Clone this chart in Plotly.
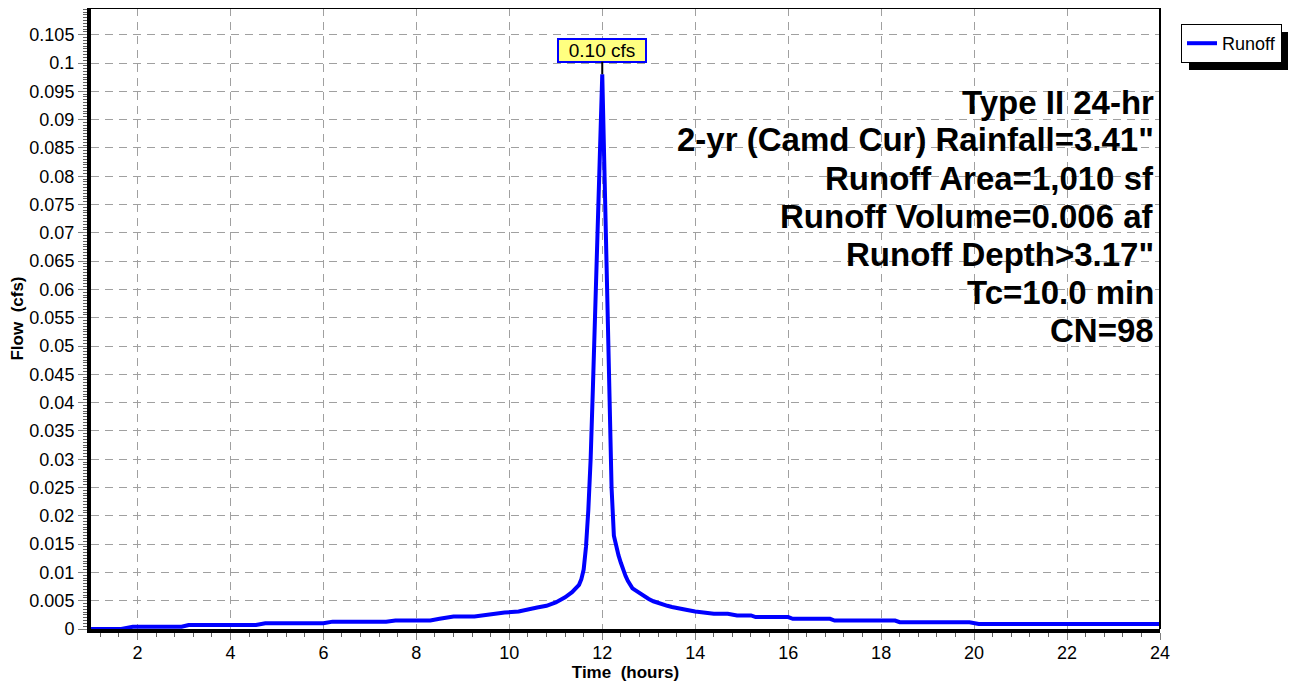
import plotly.graph_objects as go

# Hydrograph (time in hours, flow in cfs)
time_hr = [1.0, 1.65, 1.9, 2.95, 3.1, 4.55, 4.75, 6.0, 6.2, 7.35, 7.55, 8.3, 8.5, 8.8,
           9.25, 9.55, 9.9, 10.2, 10.4, 10.6, 10.8, 11.0, 11.2, 11.35, 11.5, 11.55,
           11.6, 11.65, 11.7, 11.75, 11.8, 11.85, 11.9, 11.95, 12.0, 12.05, 12.1,
           12.15, 12.2, 12.25, 12.3, 12.35, 12.4, 12.45, 12.5, 12.55, 12.6, 12.65,
           12.7, 12.75, 12.8, 12.9, 13.0, 13.1, 13.2, 13.3, 13.4, 13.5, 13.6, 13.8,
           14.0, 14.2, 14.4, 14.7, 14.9, 15.2, 15.3, 16.0, 16.1, 16.9, 17.0, 18.3,
           18.4, 19.9, 20.1, 24.0]
flow_cfs = [0.0, 0.0, 0.0004, 0.0004, 0.0007, 0.0007, 0.001, 0.001, 0.0013, 0.0013,
            0.0015, 0.0015, 0.0018, 0.0022, 0.0022, 0.0026, 0.0029, 0.0031, 0.0035,
            0.0038, 0.0041, 0.0047, 0.0056, 0.0065, 0.0078, 0.0088, 0.0105, 0.0145,
            0.021, 0.030, 0.043, 0.057, 0.071, 0.086, 0.098, 0.080, 0.060, 0.040,
            0.025, 0.0165, 0.0145, 0.0130, 0.0117, 0.0104, 0.0094, 0.0085, 0.0077,
            0.0072, 0.0069, 0.0066, 0.0063, 0.0058, 0.0053, 0.0049, 0.0046, 0.0043,
            0.0041, 0.0039, 0.0037, 0.0034, 0.0031, 0.0029, 0.0027, 0.0027, 0.0024,
            0.0024, 0.0021, 0.0021, 0.0018, 0.0018, 0.0015, 0.0015, 0.0012, 0.0012,
            0.0009, 0.0009]

x_tick_vals = [2, 4, 6, 8, 10, 12, 14, 16, 18, 20, 22, 24]
y_tick_vals = [0, 0.005, 0.01, 0.015, 0.02, 0.025, 0.03, 0.035, 0.04, 0.045, 0.05,
               0.055, 0.06, 0.065, 0.07, 0.075, 0.08, 0.085, 0.09, 0.095, 0.1, 0.105]
y_tick_text = ["0", "0.005", "0.01", "0.015", "0.02", "0.025", "0.03", "0.035", "0.04",
               "0.045", "0.05", "0.055", "0.06", "0.065", "0.07", "0.075", "0.08",
               "0.085", "0.09", "0.095", "0.1", "0.105"]

info_lines = ["Type II 24-hr", "2-yr (Camd Cur) Rainfall=3.41\"", "Runoff Area=1,010 sf",
              "Runoff Volume=0.006 af", "Runoff Depth>3.17\"", "Tc=10.0 min", "CN=98"]
peak_time = 12.0
peak_flow = 0.098
peak_label = "0.10 cfs"

FONT = "Arial, Liberation Sans, sans-serif"

# the page body has an 8px margin; work in page pixels and convert
OFF = 8
W, H = 1296 - OFF, 686 - OFF
PLOT_L, PLOT_R, PLOT_T, PLOT_B = 91, 1160, 8, 629   # page pixels
L = PLOT_L - OFF
R = W - (PLOT_R - OFF)
T = PLOT_T - OFF
B = H - (PLOT_B - OFF)
pw, ph = W - L - R, H - T - B

def px_x(px):
    return (px - PLOT_L) / pw

def px_y(py):
    return (PLOT_B - py) / ph

grid = dict(showgrid=True, gridcolor="#a0a0a0", gridwidth=1, griddash="8px,6px")

fig = go.Figure()
fig.add_trace(go.Scatter(x=time_hr, y=flow_cfs, mode="lines", name="Runoff",
                         line=dict(color="#0000FF", width=4)))

fig.update_layout(
    width=W, height=H,
    margin=dict(l=L, r=R, t=T, b=B, autoexpand=False),
    paper_bgcolor="white", plot_bgcolor="white",
    font=dict(family=FONT, size=18, color="black"),
    showlegend=True,
    legend=dict(x=px_x(1181), y=px_y(24), xanchor="left", yanchor="top",
                bgcolor="white", bordercolor="black", borderwidth=1,
                font=dict(size=18), itemwidth=30, tracegroupgap=0),
    xaxis=dict(range=[1, 24], tickvals=x_tick_vals, ticks="outside", ticklen=7,
               tickcolor="#808080", showline=True, linecolor="black", linewidth=4,
               zeroline=False, ticklabelstandoff=-3,
               minor=dict(dtick=0.4, tick0=2, ticks="outside", ticklen=4,
                          tickcolor="#606060", showgrid=False),
               title=dict(text="<b>Time  (hours)</b>", font=dict(size=17), standoff=2),
               **grid),
    yaxis=dict(range=[0, 621 / 5660], tickvals=y_tick_vals, ticktext=y_tick_text,
               ticks="outside", ticklen=9, tickcolor="#808080", showline=True,
               linecolor="black", linewidth=4, zeroline=False,
               minor=dict(dtick=0.0005, tick0=0, ticks="outside", ticklen=4,
                          tickcolor="#606060", showgrid=False),
               title=dict(text="<b>Flow  (cfs)</b>", font=dict(size=17), standoff=2),
               **grid),
)

# top and right frame lines
fig.add_shape(type="line", xref="paper", yref="paper", x0=0, x1=1, y0=1, y1=1,
              line=dict(color="black", width=2))
fig.add_shape(type="line", xref="paper", yref="paper", x0=1, x1=1, y0=0, y1=1,
              line=dict(color="black", width=2))

# legend shadow
fig.add_shape(type="rect", xref="paper", yref="paper",
              x0=px_x(1189), x1=px_x(1294), y0=px_y(70), y1=px_y(32),
              fillcolor="black", line=dict(width=0), layer="above")

# info text block
for i, txt in enumerate(info_lines):
    fig.add_annotation(text="<b>" + txt + "</b>", xref="paper", yref="paper",
                       x=px_x(1156), y=px_y(102 + 38 * i), xanchor="right",
                       yanchor="middle", showarrow=False,
                       font=dict(size=33, family=FONT, color="black"))

# peak label
fig.add_annotation(x=peak_time, y=peak_flow, text=peak_label, showarrow=True,
                   arrowhead=0, arrowwidth=2, arrowcolor="black", ax=0, ay=-24,
                   width=86, height=21, bgcolor="#FFFF80", bordercolor="#0000FF",
                   borderwidth=2, borderpad=0,
                   font=dict(size=19, family=FONT, color="black"))

fig.write_html("out.html")
